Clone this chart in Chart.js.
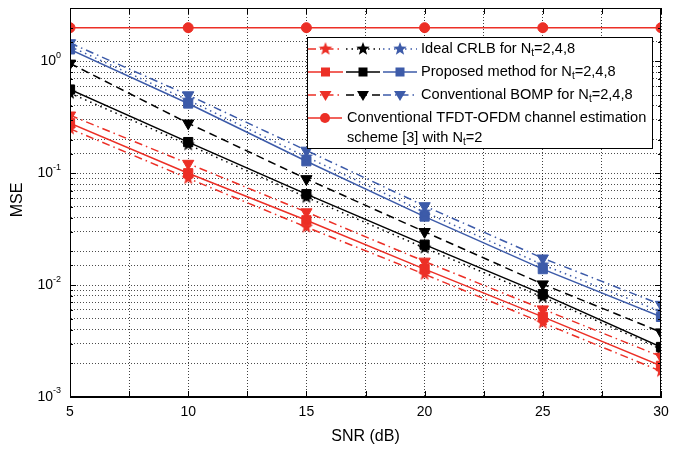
<!DOCTYPE html>
<html>
<head>
<meta charset="utf-8">
<script src="https://cdn.jsdelivr.net/npm/chart.js@4.4.0/dist/chart.umd.min.js"></script>
<style>
body{margin:0;background:#fff;}
</style>
</head>
<body>
<canvas id="mycanvas" width="678" height="449"></canvas>
<script>
// SNR points (dB)
var snr = [5, 10, 15, 20, 25, 30];

// Ideal CRLB, Nt = 2,4,8
var crlb2 = [0.25, 0.090, 0.033, 0.0125, 0.0046, 0.0017];
var crlb4 = [0.52, 0.180, 0.061, 0.0215, 0.0078, 0.0027];
var crlb8 = [1.36, 0.450, 0.140, 0.0450, 0.0152, 0.0058];

// Proposed method, Nt = 2,4,8
var prop2 = [0.28, 0.100, 0.038, 0.0139, 0.0052, 0.0019];
var prop4 = [0.56, 0.190, 0.065, 0.0230, 0.0083, 0.0028];
var prop8 = [1.28, 0.420, 0.128, 0.0410, 0.0139, 0.0052];

// Conventional BOMP, Nt = 2,4,8
var bomp2 = [0.33, 0.122, 0.045, 0.0163, 0.0061, 0.0023];
var bomp4 = [0.96, 0.280, 0.089, 0.0300, 0.0102, 0.0038];
var bomp8 = [1.46, 0.500, 0.160, 0.0510, 0.0174, 0.0067];

// TFDT-OFDM scheme [3], Nt = 2
var tfdt = [2, 2, 2, 2, 2, 2];

// axis labels
var xTicks = [5, 10, 15, 20, 25, 30];
var yDecades = [0.001, 0.01, 0.1, 1];
var yExps = ['-3', '-2', '-1', '0'];

var RED = '#ec2f26', BLACK = '#000000', BLUE = '#3d5ba9';
var DASHDOT = [8, 4, 1.5, 4], DOT = [1.5, 4], DASH = [8, 5], SOLID = [];
var FONT = '"Liberation Sans", Arial, Helvetica, sans-serif';
var LSIZE = 14.6;

function starImage(color, r) {
	var c = document.createElement('canvas');
	c.width = c.height = 2 * r + 2;
	var g = c.getContext('2d');
	g.fillStyle = color;
	g.beginPath();
	for (var i = 0; i < 10; i++) {
		var ang = -Math.PI / 2 + i * Math.PI / 5;
		var rad = (i % 2) ? r * 0.42 : r;
		var px = r + 1 + rad * Math.cos(ang), py = r + 1 + rad * Math.sin(ang);
		if (i == 0) g.moveTo(px, py); else g.lineTo(px, py);
	}
	g.closePath();
	g.fill();
	return c;
}

var stars = {};
stars[RED] = starImage(RED, 7);
stars[BLACK] = starImage(BLACK, 7);
stars[BLUE] = starImage(BLUE, 7);

function series(label, data, color, dash, marker) {
	var ds = {
		label: label,
		data: data.map(function(v, i){ return {x: snr[i], y: v}; }),
		borderColor: color,
		backgroundColor: color,
		borderWidth: 1.5,
		borderDash: dash,
		pointBorderColor: color,
		pointBackgroundColor: color,
		pointBorderWidth: 1,
		tension: 0
	};
	if (marker == 'star') { ds.pointStyle = stars[color]; ds.pointRadius = 7; }
	if (marker == 'square') { ds.pointStyle = 'rect'; ds.pointRadius = 6.5; }
	if (marker == 'tri') { ds.pointStyle = 'triangle'; ds.pointRotation = 180; ds.pointRadius = 6.5; }
	if (marker == 'circle') { ds.pointStyle = 'circle'; ds.pointRadius = 5; }
	return ds;
}

var datasets = [
	series('TFDT Nt=2', tfdt, RED, SOLID, 'circle'),
	series('BOMP Nt=2', bomp2, RED, DASHDOT, 'tri'),
	series('BOMP Nt=4', bomp4, BLACK, DASH, 'tri'),
	series('BOMP Nt=8', bomp8, BLUE, DASHDOT, 'tri'),
	series('CRLB Nt=2', crlb2, RED, DASHDOT, 'star'),
	series('CRLB Nt=4', crlb4, BLACK, DOT, 'star'),
	series('CRLB Nt=8', crlb8, BLUE, DOT, 'star'),
	series('Proposed Nt=2', prop2, RED, SOLID, 'square'),
	series('Proposed Nt=4', prop4, BLACK, SOLID, 'square'),
	series('Proposed Nt=8', prop8, BLUE, SOLID, 'square')
];

// text with an optional subscript "t" after N
function drawRich(ctx, parts, x, y) {
	for (var i = 0; i < parts.length; i++) {
		var p = parts[i];
		if (p.sub) {
			ctx.font = '10px ' + FONT;
			ctx.fillText(p.t, x, y + 4);
		} else {
			ctx.font = LSIZE + 'px ' + FONT;
			ctx.fillText(p.t, x, y);
		}
		x += ctx.measureText(p.t).width;
	}
}

function legendMarker(ctx, kind, color, x, y) {
	ctx.save();
	ctx.fillStyle = color;
	ctx.setLineDash([]);
	if (kind == 'star') {
		ctx.drawImage(stars[color], x - 8, y - 8);
	} else if (kind == 'square') {
		ctx.fillRect(x - 4.5, y - 4.5, 9, 9);
	} else if (kind == 'tri') {
		ctx.beginPath();
		ctx.moveTo(x - 6, y - 4);
		ctx.lineTo(x + 6, y - 4);
		ctx.lineTo(x, y + 6);
		ctx.closePath();
		ctx.fill();
	} else if (kind == 'circle') {
		ctx.beginPath();
		ctx.arc(x, y, 5, 0, Math.PI * 2);
		ctx.fill();
	}
	ctx.restore();
}

function legendSample(ctx, x0, x1, y, color, dash, kind) {
	ctx.save();
	ctx.strokeStyle = color;
	ctx.lineWidth = 1.5;
	ctx.setLineDash(dash);
	ctx.beginPath();
	ctx.moveTo(x0, y);
	ctx.lineTo(x1, y);
	ctx.stroke();
	ctx.restore();
	legendMarker(ctx, kind, color, (x0 + x1) / 2, y);
}

var framePlugin = {
	id: 'frame',
	afterDraw: function(chart) {
		var ctx = chart.ctx, a = chart.chartArea;
		var xs = chart.scales.x, ys = chart.scales.y;
		ctx.save();
		ctx.strokeStyle = '#000';
		ctx.lineWidth = 1;
		ctx.setLineDash([]);
		ctx.strokeRect(Math.round(a.left) + 0.5, Math.round(a.top) + 0.5,
			Math.round(a.right - a.left) - 1, Math.round(a.bottom - a.top) - 1);

		// inward tick marks
		ctx.beginPath();
		ys.ticks.forEach(function(t) {
			var py = Math.round(ys.getPixelForValue(t.value)) + 0.5;
			var major = yDecades.indexOf(t.value) >= 0;
			var len = major ? 6 : 3;
			ctx.moveTo(a.left, py); ctx.lineTo(a.left + len, py);
			ctx.moveTo(a.right, py); ctx.lineTo(a.right - len, py);
		});
		xs.ticks.forEach(function(t) {
			var px = Math.round(xs.getPixelForValue(t.value)) + 0.5;
			ctx.moveTo(px, a.bottom); ctx.lineTo(px, a.bottom - 6);
			ctx.moveTo(px, a.top); ctx.lineTo(px, a.top + 6);
		});
		ctx.stroke();

		// y tick labels 10^n
		ctx.fillStyle = '#000';
		ctx.textBaseline = 'middle';
		for (var i = 0; i < yDecades.length; i++) {
			var py = ys.getPixelForValue(yDecades[i]);
			ctx.font = '9px ' + FONT;
			var we = ctx.measureText(yExps[i]).width;
			ctx.textAlign = 'left';
			ctx.fillText(yExps[i], 61 - we, py - 6);
			ctx.font = '14px ' + FONT;
			ctx.textAlign = 'right';
			ctx.fillText('10', 61 - we, py);
		}

		// axis titles
		ctx.font = '16px ' + FONT;
		ctx.textAlign = 'center';
		ctx.fillText('SNR (dB)', (a.left + a.right) / 2, 437);
		ctx.save();
		ctx.translate(18, 200);
		ctx.rotate(-Math.PI / 2);
		ctx.fillText('MSE', 0, 0);
		ctx.restore();

		// legend
		var bx = 307, by = 37, bw = 345, bh = 111;
		ctx.fillStyle = '#fff';
		ctx.fillRect(bx, by, bw, bh);
		ctx.strokeStyle = '#000';
		ctx.lineWidth = 1;
		ctx.strokeRect(bx + 0.5, by + 0.5, bw, bh);

		var rows = [
			{y: 49, kind: 'star', dash: [DASHDOT, DOT, DOT],
				text: [{t: 'Ideal CRLB for N'}, {t: 't', sub: true}, {t: '=2,4,8'}]},
			{y: 72, kind: 'square', dash: [SOLID, SOLID, SOLID],
				text: [{t: 'Proposed method for N'}, {t: 't', sub: true}, {t: '=2,4,8'}]},
			{y: 95, kind: 'tri', dash: [DASHDOT, DASH, DASHDOT],
				text: [{t: 'Conventional BOMP for N'}, {t: 't', sub: true}, {t: '=2,4,8'}]}
		];
		var cols = [RED, BLACK, BLUE];
		var segs = [[308, 343], [346, 380], [383, 417]];
		rows.forEach(function(r) {
			for (var k = 0; k < 3; k++) legendSample(ctx, segs[k][0], segs[k][1], r.y, cols[k], r.dash[k], r.kind);
			ctx.fillStyle = '#000';
			ctx.textAlign = 'left';
			ctx.textBaseline = 'middle';
			drawRich(ctx, r.text, 421, r.y);
		});
		legendSample(ctx, 308, 342, 118, RED, SOLID, 'circle');
		ctx.fillStyle = '#000';
		ctx.textAlign = 'left';
		drawRich(ctx, [{t: 'Conventional TFDT-OFDM channel estimation'}], 347, 118);
		drawRich(ctx, [{t: 'scheme [3] with N'}, {t: 't', sub: true}, {t: '=2'}], 347, 138);
		ctx.restore();
	}
};

var ctx = document.getElementById('mycanvas');
var chart = new Chart(ctx, {
	type: 'line',
	data: {datasets: datasets},
	options: {
		responsive: false,
		animation: false,
		layout: {padding: {top: 4, right: 17, left: 0, bottom: 0}},
		plugins: {legend: {display: false}, tooltip: {enabled: false}},
		scales: {
			x: {
				type: 'linear',
				min: 5, max: 30,
				afterFit: function(s) { s.height = 52; },
				ticks: {
					stepSize: 2.5,
					autoSkip: false,
					maxRotation: 0,
					padding: 7,
					color: '#000',
					font: {size: 14, family: FONT},
					callback: function(v) { return xTicks.indexOf(v) >= 0 ? String(v) : ''; }
				},
				grid: {color: 'rgba(0,0,0,0.75)', drawTicks: false, lineWidth: 1},
				border: {display: true, color: '#000', dash: [1, 2]}
			},
			y: {
				type: 'logarithmic',
				min: 0.001, max: 3,
				afterFit: function(s) { s.width = 70; },
				ticks: {display: false, autoSkip: false},
				grid: {color: 'rgba(0,0,0,0.7)', drawTicks: false, lineWidth: 1},
				border: {display: true, color: '#000', dash: [1, 2]}
			}
		}
	},
	plugins: [framePlugin]
});
</script>
</body>
</html>
